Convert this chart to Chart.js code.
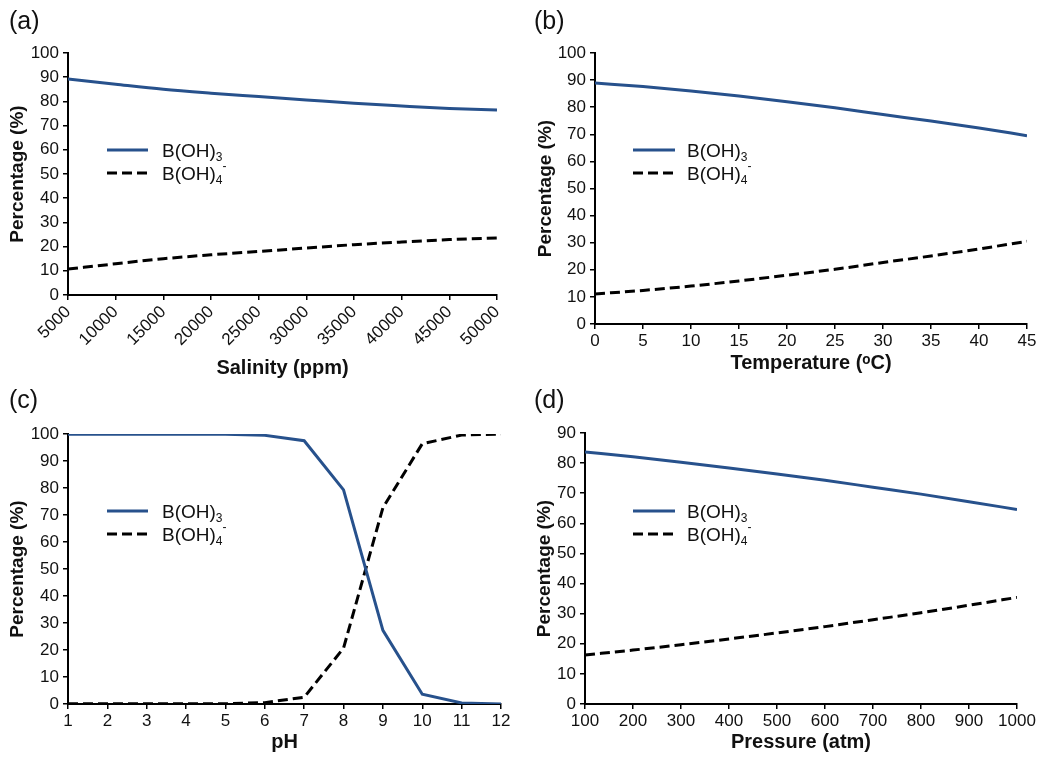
<!DOCTYPE html>
<html>
<head>
<meta charset="utf-8">
<script src="https://cdn.jsdelivr.net/npm/chart.js@4.4.0/dist/chart.umd.min.js"></script>
<style>
  html, body { margin: 0; padding: 0; background: #fff; }
  #wrap { position: relative; width: 1044px; height: 763px; overflow: hidden; background: #fff; }
  canvas { position: absolute; }
  .plabel { position: absolute; font-family: "Liberation Sans", Arial, sans-serif; font-size: 25px; line-height: 28px; color: #111; }
</style>
</head>
<body>
<div id="wrap">
  <canvas id="ca"></canvas>
  <canvas id="cb"></canvas>
  <canvas id="cc"></canvas>
  <canvas id="cd"></canvas>
  <div class="plabel" style="left:9px;top:6px;">(a)</div>
  <div class="plabel" style="left:534px;top:6px;">(b)</div>
  <div class="plabel" style="left:9px;top:385px;">(c)</div>
  <div class="plabel" style="left:534px;top:385px;">(d)</div>
</div>
<script>
// ---- data ----
const seriesNames = ['B(OH)\u2083', 'B(OH)\u2084\u207B'];

const salinity = [5000, 10000, 15000, 20000, 25000, 30000, 35000, 40000, 45000, 50000];
const salBOH3  = [89.3, 87.1, 85.0, 83.4, 82.0, 80.6, 79.2, 78.1, 77.1, 76.4];
const salBOH4  = [10.7, 12.9, 15.0, 16.6, 18.0, 19.4, 20.8, 21.9, 22.9, 23.6];

const temperature = [0, 5, 10, 15, 20, 25, 30, 35, 40, 45];
const tempBOH3 = [88.9, 87.6, 86.0, 84.1, 82.0, 79.8, 77.3, 74.9, 72.3, 69.5];
const tempBOH4 = [11.1, 12.4, 14.0, 15.9, 18.0, 20.2, 22.7, 25.1, 27.7, 30.5];

const pH = [1, 2, 3, 4, 5, 6, 7, 8, 9, 10, 11, 12];
const phBOH3 = [99.9, 99.9, 99.9, 99.9, 99.9, 99.5, 97.5, 79.3, 27.3, 3.6, 0.4, 0.0];
const phBOH4 = [0.1, 0.1, 0.1, 0.1, 0.1, 0.5, 2.5, 20.7, 72.7, 96.4, 99.6, 100.0];

const pressure = [100, 200, 300, 400, 500, 600, 700, 800, 900, 1000];
const presBOH3 = [83.7, 82.1, 80.3, 78.4, 76.4, 74.3, 72.0, 69.7, 67.2, 64.6];
const presBOH4 = [16.3, 17.9, 19.7, 21.6, 23.6, 25.7, 28.0, 30.3, 32.8, 35.4];

const xTitles = ['Salinity (ppm)', 'Temperature (\u1D52C)', 'pH', 'Pressure (atm)'];
const yTitle = 'Percentage (%)';

// ---- style ----
const FONT = '"Liberation Sans", Arial, Helvetica, sans-serif';
const BLUE = '#27518c';

// legend drawn inside the plot area, using the datasets' own styles
const legendParts = [
  [['B(OH)', 'n'], ['3', 'sub']],
  [['B(OH)', 'n'], ['4', 'sub'], ['-', 'sup']]
];
const insideLegend = {
  id: 'insideLegend',
  afterDraw(chart, args, opts) {
    const ctx = chart.ctx;
    ctx.save();
    chart.data.datasets.forEach((ds, i) => {
      const y = opts.y + i * opts.rowH;
      ctx.beginPath();
      ctx.strokeStyle = ds.borderColor;
      ctx.lineWidth = ds.borderWidth;
      ctx.setLineDash(ds.borderDash || []);
      ctx.moveTo(opts.x, y);
      ctx.lineTo(opts.x + opts.len, y);
      ctx.stroke();
      ctx.setLineDash([]);
      ctx.fillStyle = '#111';
      ctx.textBaseline = 'middle';
      let tx = opts.x + opts.len + opts.gap;
      legendParts[i].forEach(([t, kind]) => {
        if (kind === 'n') {
          ctx.font = '19px ' + FONT;
          ctx.fillText(t, tx, y + 2);
        } else if (kind === 'sub') {
          ctx.font = '12px ' + FONT;
          ctx.fillText(t, tx, y + 8);
        } else {
          ctx.font = '12px ' + FONT;
          ctx.fillText(t, tx, y - 6);
        }
        tx += ctx.measureText(t).width;
      });
    });
    ctx.restore();
  }
};

function makeChart(id, cfg) {
  const el = document.getElementById(id);
  el.style.left = cfg.left + 'px';
  el.style.top = cfg.top + 'px';
  el.width = cfg.w; el.height = cfg.h;
  el.style.width = cfg.w + 'px'; el.style.height = cfg.h + 'px';
  const xh = cfg.h - cfg.area.bottom - cfg.padBottom;
  const toPts = (xs, ys) => xs.map((x, k) => ({ x: x, y: ys[k] }));
  return new Chart(el, {
    type: 'line',
    data: {
      datasets: [
        { label: seriesNames[0], data: toPts(cfg.xs, cfg.y1), borderColor: BLUE, borderWidth: 3,
          pointRadius: 0, tension: cfg.smooth ? 0.4 : 0, cubicInterpolationMode: cfg.smooth ? 'monotone' : 'default', fill: false },
        { label: seriesNames[1], data: toPts(cfg.xs, cfg.y2), borderColor: '#000', borderWidth: 3, borderDash: [10, 5],
          pointRadius: 0, tension: cfg.smooth ? 0.4 : 0, cubicInterpolationMode: cfg.smooth ? 'monotone' : 'default', fill: false }
      ]
    },
    options: {
      responsive: false,
      animation: false,
      devicePixelRatio: 1,
      layout: { padding: { left: 0, top: cfg.area.top, right: cfg.w - cfg.area.right, bottom: cfg.padBottom } },
      plugins: {
        legend: { display: false },
        tooltip: { enabled: false },
        insideLegend: cfg.legend
      },
      scales: {
        x: {
          type: 'linear', min: cfg.xmin, max: cfg.xmax,
          afterFit: s => { s.height = xh; },
          ticks: { stepSize: cfg.xstep, color: '#111', font: { family: FONT, size: 17 }, padding: cfg.rot ? 2 : 2,
                   minRotation: cfg.rot || 0, maxRotation: cfg.rot || 0, autoSkip: false,
                   callback: v => String(v) },
          grid: { drawOnChartArea: false, drawTicks: true, tickLength: 5, color: '#000', lineWidth: 1.5 },
          border: { display: true, color: '#000', width: 2 },
          title: { display: true, text: cfg.xTitle, color: '#111',
                   font: { family: FONT, size: 20, weight: 'bold', lineHeight: 1.2 },
                   padding: { top: 0, bottom: cfg.xTitlePad } }
        },
        y: {
          type: 'linear', min: 0, max: cfg.ymax,
          afterFit: s => { s.width = cfg.area.left; },
          ticks: { stepSize: 10, color: '#111', font: { family: FONT, size: 17 }, padding: 4,
                   callback: v => String(v) },
          grid: { drawOnChartArea: false, drawTicks: true, tickLength: 5, color: '#000', lineWidth: 1.5 },
          border: { display: true, color: '#000', width: 2 },
          title: { display: true, text: yTitle, color: '#111',
                   font: { family: FONT, size: 19, weight: 'bold', lineHeight: 1.2 },
                   padding: { top: cfg.yTitlePad, bottom: 0 } }
        }
      }
    },
    plugins: [insideLegend]
  });
}

makeChart('ca', { left: 0, top: 0, w: 520, h: 380, area: { left: 68, top: 53, right: 497, bottom: 295 }, padBottom: 0,
  xs: salinity, y1: salBOH3, y2: salBOH4, smooth: true, xmin: 5000, xmax: 50000, xstep: 5000, rot: 45, ymax: 100,
  xTitle: xTitles[0], xTitlePad: 0, yTitlePad: 6, legend: { x: 107, y: 150, len: 41, gap: 14, rowH: 23 } });

makeChart('cb', { left: 520, top: 0, w: 524, h: 380, area: { left: 75, top: 53, right: 507, bottom: 324 }, padBottom: 0,
  xs: temperature, y1: tempBOH3, y2: tempBOH4, smooth: true, xmin: 0, xmax: 45, xstep: 5, rot: 0, ymax: 100,
  xTitle: xTitles[1], xTitlePad: 5, yTitlePad: 14, legend: { x: 113, y: 150, len: 42, gap: 12, rowH: 23 } });

makeChart('cc', { left: 0, top: 380, w: 520, h: 383, area: { left: 68, top: 54, right: 501, bottom: 324 }, padBottom: 0,
  xs: pH, y1: phBOH3, y2: phBOH4, smooth: false, xmin: 1, xmax: 12, xstep: 1, rot: 0, ymax: 100,
  xTitle: xTitles[2], xTitlePad: 9, yTitlePad: 6, legend: { x: 107, y: 131, len: 41, gap: 14, rowH: 23 } });

makeChart('cd', { left: 520, top: 380, w: 524, h: 383, area: { left: 65, top: 53, right: 497, bottom: 324 }, padBottom: 0,
  xs: pressure, y1: presBOH3, y2: presBOH4, smooth: true, xmin: 100, xmax: 1000, xstep: 100, rot: 0, ymax: 90,
  xTitle: xTitles[3], xTitlePad: 9, yTitlePad: 13, legend: { x: 113, y: 131, len: 42, gap: 12, rowH: 23 } });
</script>
</body>
</html>
